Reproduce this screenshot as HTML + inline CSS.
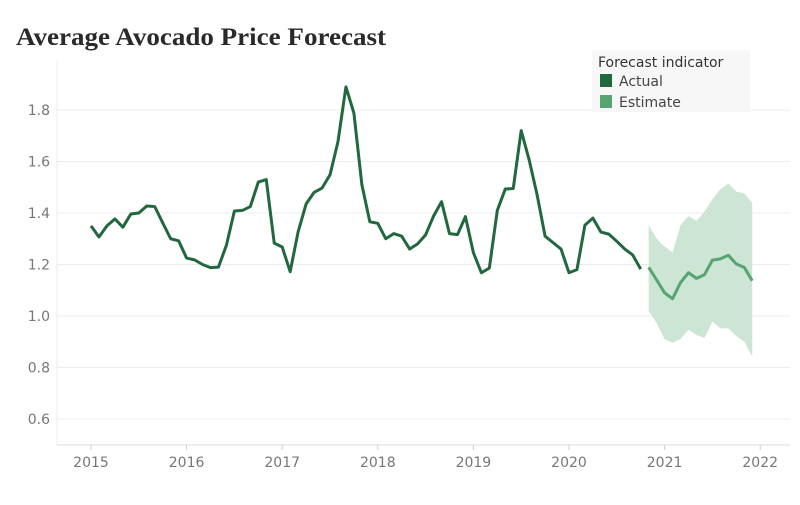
<!DOCTYPE html>
<html><head><meta charset="utf-8">
<style>
body{margin:0;background:#fff;width:800px;height:500px;overflow:hidden;font-family:"Liberation Sans",sans-serif}
svg text{font-family:"DejaVu Sans","Liberation Sans",sans-serif}
</style></head>
<body>
<svg id="chart" width="800" height="500">
<text x="16" y="45" font-weight="bold" font-size="25" fill="#2a2a2a" textLength="370" lengthAdjust="spacingAndGlyphs" style="font-family:'Liberation Serif',serif">Average Avocado Price Forecast</text>
<g id="grid"></g>
<g id="band"></g>
<g id="lines"></g>
<g id="axes"></g>
<g>
<rect x="592" y="50" width="158" height="62" fill="#f7f7f7"/>
<text x="598" y="67" font-size="14" fill="#333">Forecast indicator</text>
<g><rect x="600" y="74" width="12" height="13" fill="#22683e"/><text x="619" y="86" font-size="14" fill="#444">Actual</text></g>
<g><rect x="600" y="95" width="12" height="13" fill="#57a472"/><text x="619" y="107" font-size="14" fill="#444">Estimate</text></g>
</g>
</svg>
<script>
const actual=[1.35,1.307,1.35,1.377,1.345,1.396,1.40,1.427,1.425,1.362,1.30,1.292,
1.225,1.218,1.20,1.188,1.19,1.275,1.408,1.41,1.425,1.52,1.53,1.283,
1.268,1.172,1.327,1.435,1.48,1.497,1.548,1.677,1.89,1.788,1.51,1.366,
1.36,1.30,1.32,1.31,1.26,1.28,1.315,1.388,1.444,1.32,1.316,1.386,
1.246,1.168,1.186,1.41,1.493,1.495,1.72,1.606,1.47,1.31,1.285,1.26,
1.168,1.18,1.353,1.38,1.326,1.318,1.29,1.26,1.237,1.182];
const estimate=[1.189,1.14,1.09,1.067,1.13,1.168,1.146,1.16,1.217,1.222,1.236,1.202,1.189,1.137];
const upper=[1.353,1.30,1.27,1.246,1.353,1.388,1.37,1.405,1.453,1.492,1.515,1.483,1.476,1.44];
const lower=[1.02,0.973,0.91,0.896,0.91,0.946,0.926,0.915,0.978,0.952,0.952,0.922,0.90,0.842];
const yTicks=[0.6,0.8,1.0,1.2,1.4,1.6,1.8];
const xTicks=[2015,2016,2017,2018,2019,2020,2021,2022];
const startYear=2015, estStart=70;
const ns="http://www.w3.org/2000/svg";
const X=m=>91+(m/12)*95.6;
const Y=v=>316-(v-1)*257.5;
function mk(tag,attrs,parent){const e=document.createElementNS(ns,tag);for(const k in attrs)e.setAttribute(k,attrs[k]);document.getElementById(parent).appendChild(e);return e;}
yTicks.forEach(t=>{
 const l=mk('line',{x1:57,x2:790,y1:Y(t),y2:Y(t),stroke:'#ececec','stroke-width':1},'grid');
 
 
 const tx=mk('text',{x:50,y:Y(t)+5,'text-anchor':'end','font-size':14,fill:'#777'},'axes');
 tx.textContent=t.toFixed(1);
 
 
});
const ax=mk('line',{x1:57,x2:790,y1:445,y2:445,stroke:'#ddd'},'axes');


const ay=mk('line',{x1:57,x2:57,y1:60,y2:445,stroke:'#eee'},'axes');


xTicks.forEach(yr=>{
 const x=X((yr-startYear)*12);
 const tk=mk('line',{x1:x,x2:x,y1:445,y2:450,stroke:'#ccc'},'axes');
 
 
 const tx=mk('text',{x:x,y:467,'text-anchor':'middle','font-size':14,fill:'#777'},'axes');
 tx.textContent=yr;
 
 
});
let pts=upper.map((v,i)=>X(estStart+i)+','+Y(v));
for(let i=lower.length-1;i>=0;i--)pts.push(X(estStart+i)+','+Y(lower[i]));
const band=mk('polygon',{points:pts.join(' '),fill:'#cde5d5'},'band');


const a=mk('polyline',{points:actual.map((v,i)=>X(i)+','+Y(v)).join(' '),fill:'none',stroke:'#22683e','stroke-width':3,'stroke-linejoin':'round'},'lines');


const e=mk('polyline',{points:estimate.map((v,i)=>X(estStart+i)+','+Y(v)).join(' '),fill:'none',stroke:'#57a472','stroke-width':3,'stroke-linejoin':'round'},'lines');


</script>
</body></html>
